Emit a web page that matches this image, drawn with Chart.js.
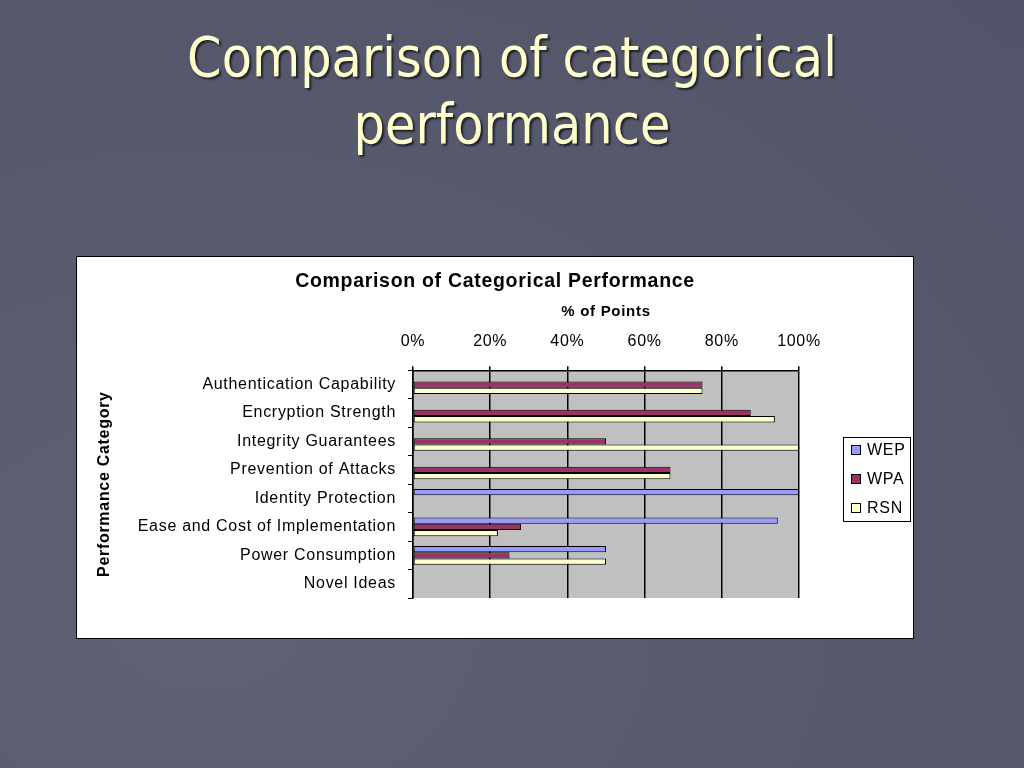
<!DOCTYPE html>
<html>
<head>
<meta charset="utf-8">
<script src="https://cdn.jsdelivr.net/npm/chart.js@4.4.1/dist/chart.umd.min.js"></script>
<style>
  html, body { margin: 0; padding: 0; }
  body {
    width: 1024px; height: 768px; overflow: hidden; position: relative;
    background: radial-gradient(ellipse at 20% 80%, #5f6275 0%, #56596b 60%, #52556a 100%);
  }
  #title {
    position: absolute; left: 0; top: 24px; width: 1024px;
    text-align: center; color: #ffffcc;
    font-family: "DejaVu Sans Condensed", "DejaVu Sans", sans-serif;
    font-size: 55px; line-height: 67px;
    text-shadow: 2px 2px 2px #1e2030;
  }
  #box {
    position: absolute; left: 76px; top: 256px; width: 836px; height: 381px;
    background: #fff; border: 1px solid #000;
  }
</style>
</head>
<body>
<div id="title">Comparison of categorical<br>performance</div>
<div id="box"><canvas id="perfChart" width="836" height="381"></canvas></div>
<script>
const categories = ['Authentication Capability', 'Encryption Strength', 'Integrity Guarantees',
    'Prevention of Attacks', 'Identity Protection', 'Ease and Cost of Implementation',
    'Power Consumption', 'Novel Ideas'];
const wep = [0, 0, 0, 0, 100, 94.5, 50, 0];
const wpa = [75, 87.5, 50, 66.7, 0, 28, 25, 0];
const rsn = [75, 93.75, 100, 66.7, 0, 22, 50, 0];

const font = 'Liberation Sans, Arial, sans-serif';
const spacing = '0.7px';

// grey plot area, wider letter spacing, boxed legend on the right
const sheet = {
    id: 'sheet',
    beforeUpdate(chart) { chart.ctx.letterSpacing = spacing; },
    afterLayout(chart) {
        // centre the chart title over the whole white box
        const t = chart.titleBlock;
        t.left = 0;
        t.right = chart.width;
        t.width = chart.width;
    },
    beforeDraw(chart) {
        const a = chart.chartArea, c = chart.ctx;
        c.letterSpacing = spacing;
        c.save();
        c.fillStyle = '#c0c0c0';
        c.fillRect(a.left, a.top, a.right - a.left, a.bottom - a.top);
        c.restore();
    },
    afterDraw(chart) {
        const c = chart.ctx;
        const bx = 766, by = 180, bw = 68, bh = 85;
        c.save();
        c.strokeStyle = '#000';
        c.lineWidth = 1;
        c.strokeRect(bx + 0.5, by + 0.5, bw - 1, bh - 1);
        c.font = '16px ' + font;
        c.textBaseline = 'middle';
        chart.data.datasets.forEach((ds, i) => {
            const y = by + 13 + i * 29;
            c.fillStyle = ds.backgroundColor;
            c.fillRect(bx + 8, y - 5, 10, 10);
            c.strokeRect(bx + 8.5, y - 4.5, 9, 9);
            c.fillStyle = '#000';
            c.fillText(ds.label, bx + 24, y + 1);
        });
        c.restore();
    }
};

const noBorderAtZero = ctx => (ctx.raw ? 1 : 0);

new Chart(document.getElementById('perfChart'), {
    type: 'bar',
    data: {
        labels: categories,
        datasets: [
            { label: 'WEP', data: wep, backgroundColor: '#9999ff', borderColor: '#000', borderWidth: noBorderAtZero, borderSkipped: false },
            { label: 'WPA', data: wpa, backgroundColor: '#993366', borderColor: '#000', borderWidth: noBorderAtZero, borderSkipped: false },
            { label: 'RSN', data: rsn, backgroundColor: '#ffffcc', borderColor: '#000', borderWidth: noBorderAtZero, borderSkipped: false }
        ]
    },
    options: {
        indexAxis: 'y',
        responsive: false,
        animation: false,
        categoryPercentage: 0.66,
        barPercentage: 1,
        layout: { padding: { left: 10, right: 114, top: 0, bottom: 40 } },
        plugins: {
            title: {
                display: true,
                text: 'Comparison of Categorical Performance',
                color: '#000',
                font: { family: font, size: 19.5, weight: 'bold' },
                padding: { top: 12.5, bottom: 4 }
            },
            legend: { display: false },
            tooltip: { enabled: false }
        },
        scales: {
            x: {
                position: 'top',
                min: 0, max: 100,
                afterFit: s => { s.height = 73.4; },
                ticks: {
                    stepSize: 20, color: '#000',
                    font: { family: font, size: 16 },
                    padding: 15,
                    callback: v => v + '%'
                },
                grid: { color: '#000', lineWidth: 1.5, tickLength: 4 },
                border: { color: '#000', width: 1.5 },
                title: {
                    display: true, text: '% of Points', color: '#000',
                    font: { family: font, size: 15, weight: 'bold' },
                    padding: { top: 5.7, bottom: 4 }
                }
            },
            y: {
                afterFit: s => { s.width = 326; },
                ticks: { color: '#000', font: { family: font, size: 16 }, padding: 12 },
                grid: { drawOnChartArea: false, color: '#000', tickLength: 5, offset: true },
                border: { color: '#000', width: 1.5 },
                title: {
                    display: true, text: 'Performance Category', color: '#000',
                    font: { family: font, size: 16, weight: 'bold' },
                    padding: { top: 8, bottom: 4 }
                }
            }
        }
    },
    plugins: [sheet]
});
</script>
</body>
</html>
